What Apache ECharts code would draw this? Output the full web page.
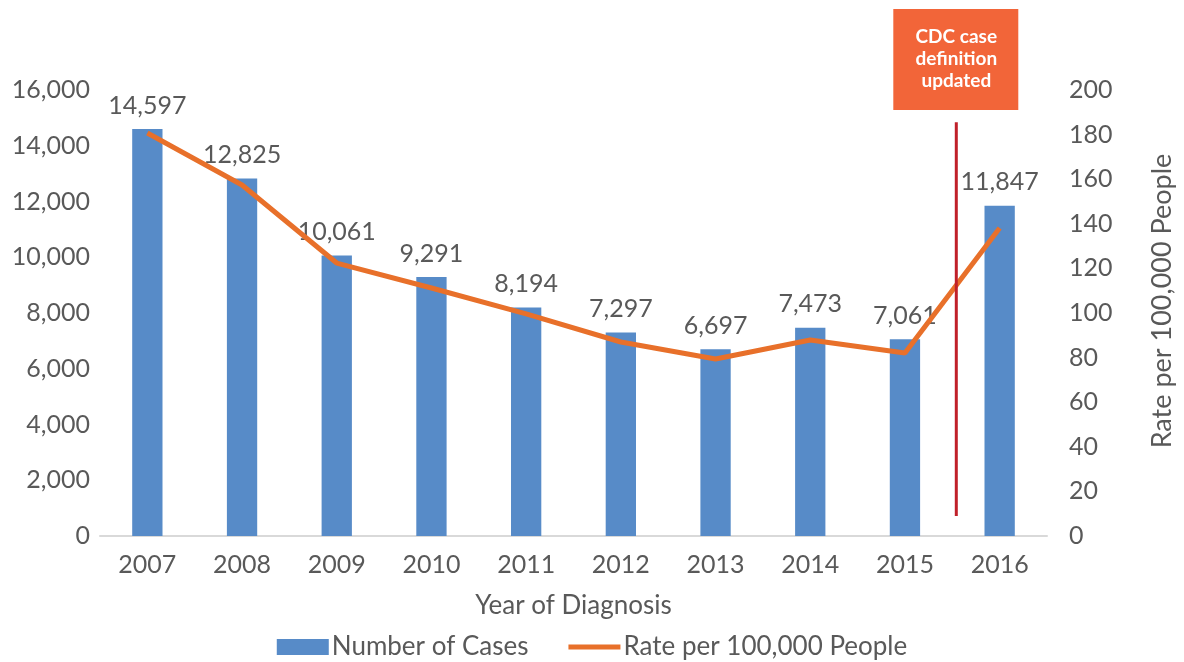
<!DOCTYPE html>
<html>
<head>
<meta charset="utf-8">
<script src="https://cdn.jsdelivr.net/npm/echarts@6/dist/echarts.min.js"></script>
<style>
  html, body { margin: 0; padding: 0; background: #fff; }
  #chart { width: 1184px; height: 662px; }
</style>
</head>
<body>
<div id="chart"></div>
<script>
// years on the x axis
const years = ['2007', '2008', '2009', '2010', '2011', '2012', '2013', '2014', '2015', '2016'];
// number of cases (bars, left axis)
const cases = [14597, 12825, 10061, 9291, 8194, 7297, 6697, 7473, 7061, 11847];
// rate per 100,000 people (line, right axis)
const rates = [180.7, 157.4, 122.4, 111.2, 99.6, 87.0, 79.4, 87.9, 82.1, 138.1];
// annotation: red marker between 2015 and 2016, spans these rate values
const markerRange = [9, 185.5];
const noteText = 'CDC case\ndefinition\nupdated';

const font = 'Lato, "Open Sans", sans-serif';
const grey = '#595959';

const chart = echarts.init(document.getElementById('chart'));

const option = {
  animation: false,
  textStyle: { fontFamily: font },
  grid: { left: 100, right: 137, top: 90, bottom: 126 },
  legend: {
    bottom: 2,
    left: 'center',
    padding: 0,
    itemWidth: 52,
    itemHeight: 16,
    itemGap: 40,
    textStyle: { color: grey, fontSize: 26, fontFamily: font, padding: [0, 0, 0, -2] },
    data: [
      { name: 'Number of Cases', icon: 'rect' },
      {
        name: 'Rate per 100,000 People',
        icon: 'path://M0,0H52V5H0Z',
        symbolKeepAspect: true,
        itemStyle: { color: '#e8702a' }
      }
    ]
  },
  xAxis: {
    type: 'category',
    data: years,
    name: 'Year of Diagnosis',
    nameLocation: 'middle',
    nameGap: 57,
    nameTextStyle: { color: grey, fontSize: 26 },
    axisLine: { lineStyle: { color: '#d9d9d9', width: 2 } },
    axisTick: { show: false },
    axisLabel: { color: grey, fontSize: 25, margin: 16 }
  },
  yAxis: [
    {
      type: 'value',
      min: 0, max: 16000, interval: 2000,
      splitLine: { show: false },
      axisLine: { show: false },
      axisTick: { show: false },
      axisLabel: {
        color: grey, fontSize: 25, margin: 10,
        formatter: v => v.toLocaleString('en-US')
      }
    },
    {
      type: 'value',
      min: 0, max: 200, interval: 20,
      name: 'Rate per 100,000 People',
      nameLocation: 'middle',
      nameRotate: 90,
      nameGap: 102,
      nameTextStyle: { color: grey, fontSize: 27, padding: [0, 0, 0, 24] },
      splitLine: { show: false },
      axisLine: { show: false },
      axisTick: { show: false },
      axisLabel: { color: grey, fontSize: 25, margin: 22 }
    }
  ],
  series: [
    {
      name: 'Number of Cases',
      type: 'bar',
      data: cases,
      barWidth: '32%',
      itemStyle: { color: '#578bc8' },
      label: {
        show: true,
        position: 'top',
        distance: 11,
        color: grey,
        fontSize: 25,
        formatter: p => p.value.toLocaleString('en-US')
      }
    },
    {
      name: 'Rate per 100,000 People',
      type: 'line',
      yAxisIndex: 1,
      data: rates,
      showSymbol: false,
      symbol: 'none',
      lineStyle: { color: '#e8702a', width: 5 },
      itemStyle: { color: '#e8702a' },
      z: 3
    }
  ]
};

chart.setOption(option);

// annotation drawn in pixel space from the axes
const p15 = chart.convertToPixel({ xAxisIndex: 0 }, '2015');
const p16 = chart.convertToPixel({ xAxisIndex: 0 }, '2016');
const mx = (p15 + p16) / 2 + 4;
const yTop = chart.convertToPixel({ yAxisIndex: 1 }, markerRange[1]);
const yBot = chart.convertToPixel({ yAxisIndex: 1 }, markerRange[0]);

chart.setOption({
  graphic: [
    {
      type: 'line',
      shape: { x1: mx, y1: yTop, x2: mx, y2: yBot },
      style: { stroke: '#c0202a', lineWidth: 3 },
      z: 10
    },
    {
      type: 'rect',
      shape: { x: mx - 63, y: 9, width: 125, height: 101 },
      style: { fill: '#f26539' },
      z: 10
    },
    {
      type: 'text',
      x: mx,
      y: 59,
      style: {
        text: noteText,
        fill: '#fff',
        font: 'bold 19px ' + font,
        align: 'center',
        verticalAlign: 'middle',
        lineHeight: 22
      },
      z: 11
    }
  ]
});
</script>
</body>
</html>
